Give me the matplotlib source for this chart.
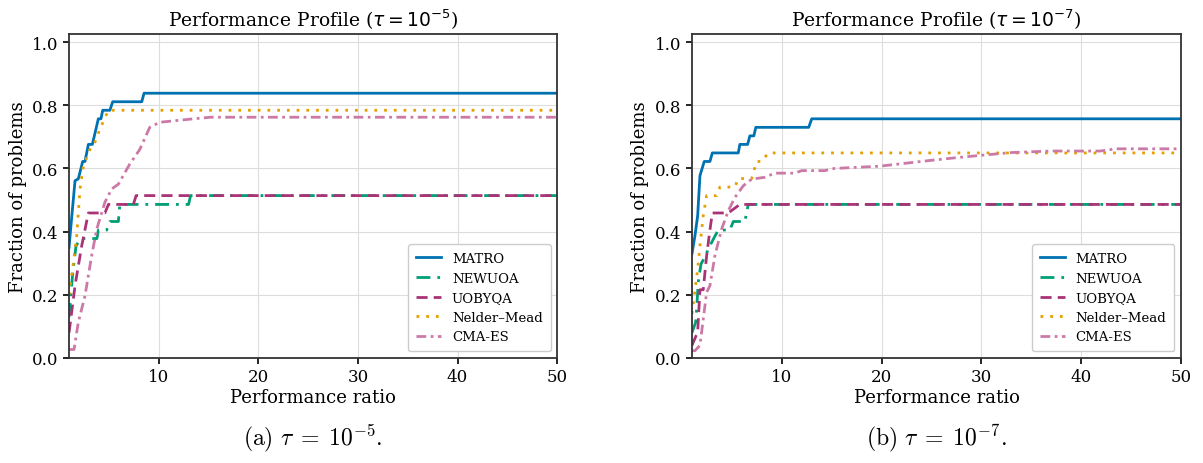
import numpy as np
import matplotlib.pyplot as plt

# Valeurs (ratio de performance, fraction de problemes)
matro_a_r = [1.0, 1.1, 1.6, 1.93, 2.37, 2.6, 2.94, 3.34, 3.94, 4.2, 4.38, 5.1, 5.38, 8.3, 8.53, 50]
matro_a_v = [0.35, 0.387, 0.561, 0.567, 0.622, 0.622, 0.676, 0.676, 0.757, 0.757, 0.784, 0.784, 0.811, 0.811, 0.838, 0.838]
newuoa_a_r = [1.0, 1.37, 1.7, 2.17, 3.8, 3.94, 4.78, 5.1, 5.95, 6.1, 13.0, 13.2, 50]
newuoa_a_v = [0.13, 0.27, 0.355, 0.378, 0.378, 0.405, 0.405, 0.432, 0.432, 0.486, 0.486, 0.514, 0.514]
uobyqa_a_r = [1.0, 1.6, 2.27, 2.94, 4.6, 4.95, 7.46, 7.73, 50]
uobyqa_a_v = [0.08, 0.229, 0.355, 0.459, 0.459, 0.486, 0.486, 0.514, 0.514]
nm_a_r = [1.0, 1.43, 1.77, 2.1, 2.44, 3.1, 3.6, 4.1, 4.95, 50]
nm_a_v = [0.2, 0.3, 0.387, 0.535, 0.608, 0.66, 0.683, 0.725, 0.784, 0.784]
cma_a_r = [1.0, 1.5, 1.93, 2.6, 3.27, 3.78, 4.6, 5.28, 5.95, 7.1, 8.1, 9.1, 10.1, 13.5, 15.2, 50]
cma_a_v = [0.027, 0.027, 0.113, 0.197, 0.324, 0.408, 0.493, 0.535, 0.55, 0.614, 0.66, 0.73, 0.746, 0.757, 0.762, 0.762]

matro_b_r = [1.0, 1.3, 1.57, 1.8, 2.23, 2.8, 3.04, 5.64, 5.8, 6.58, 6.8, 7.2, 7.4, 12.7, 13.0, 50]
matro_b_v = [0.33, 0.387, 0.45, 0.577, 0.622, 0.622, 0.649, 0.649, 0.676, 0.676, 0.703, 0.703, 0.73, 0.73, 0.757, 0.757]
newuoa_b_r = [1.0, 1.37, 1.47, 1.63, 1.9, 2.37, 2.63, 3.24, 3.64, 4.8, 5.14, 6.3, 6.64, 50]
newuoa_b_v = [0.08, 0.113, 0.155, 0.24, 0.297, 0.324, 0.345, 0.382, 0.405, 0.405, 0.432, 0.432, 0.486, 0.486]
uobyqa_b_r = [1.0, 1.57, 1.8, 2.13, 2.47, 2.8, 3.04, 4.64, 5.8, 50]
uobyqa_b_v = [0.04, 0.082, 0.216, 0.216, 0.324, 0.405, 0.459, 0.459, 0.486, 0.486]
nm_b_r = [1.0, 1.57, 1.8, 2.13, 2.47, 3.47, 3.8, 5.3, 5.64, 6.98, 7.48, 8.0, 8.65, 50]
nm_b_v = [0.14, 0.28, 0.355, 0.45, 0.514, 0.514, 0.541, 0.541, 0.568, 0.568, 0.622, 0.622, 0.649, 0.649]
cma_b_r = [1.0, 1.3, 1.8, 2.13, 2.47, 2.8, 3.3, 3.97, 4.64, 5.3, 6.14, 6.98, 8.3, 9.3, 11.3, 12.0, 14.3, 15.3, 19.8, 24.8, 27.8, 32.9, 36.9, 41.9, 43.5, 50]
cma_b_v = [0.023, 0.023, 0.04, 0.123, 0.208, 0.229, 0.324, 0.408, 0.466, 0.508, 0.545, 0.566, 0.572, 0.585, 0.585, 0.593, 0.593, 0.6, 0.607, 0.625, 0.635, 0.65, 0.655, 0.655, 0.662, 0.662]

noms = ['MATRO', 'NEWUOA', 'UOBYQA', 'Nelder\u2013Mead', 'CMA-ES']
couleurs = ['#0072B2', '#009E73', '#AA3377', '#E69F00', '#CC79A7']
styles = ['-', (0, (5, 2.5, 1, 2.5)), (0, (4, 2.2)), (0, (1, 2.5)), (0, (3.5, 1.6, 1, 1.6))]

panneaux = [
    ([matro_a_r, newuoa_a_r, uobyqa_a_r, nm_a_r, cma_a_r],
     [matro_a_v, newuoa_a_v, uobyqa_a_v, nm_a_v, cma_a_v],
     r'Performance Profile ($\tau = 10^{-5}$)', r'$\mathrm{(a)}\ \tau\;=\;10^{-5}.$'),
    ([matro_b_r, newuoa_b_r, uobyqa_b_r, nm_b_r, cma_b_r],
     [matro_b_v, newuoa_b_v, uobyqa_b_v, nm_b_v, cma_b_v],
     r'Performance Profile ($\tau = 10^{-7}$)', r'$\mathrm{(b)}\ \tau\;=\;10^{-7}.$'),
]

plt.rcParams['font.family'] = 'DejaVu Serif'
fig = plt.figure(figsize=(12.03, 4.64), dpi=100)
positions = [[0.0574, 0.2263, 0.4057, 0.698], [0.5752, 0.2263, 0.4065, 0.698]]

for pos, (ratios, valeurs, titre, legende_fig) in zip(positions, panneaux):
    ax = fig.add_axes(pos)
    for r, v, nom, c, ls in zip(ratios, valeurs, noms, couleurs, styles):
        ax.plot(r, v, color=c, linestyle=ls, linewidth=2, label=nom)
    ax.set_xlim(1, 50)
    ax.set_ylim(0, 1.025)
    ax.set_xticks([10, 20, 30, 40, 50])
    ax.set_yticks([0.0, 0.2, 0.4, 0.6, 0.8, 1.0])
    ax.tick_params(labelsize=12, length=4, width=1.2)
    ax.grid(True, color='#dddddd', linewidth=0.8)
    for s in ax.spines.values():
        s.set_linewidth(1.3)
        s.set_color('#333333')
    ax.set_xlabel('Performance ratio', fontsize=13, labelpad=2)
    ax.set_ylabel('Fraction of problems', fontsize=13)
    ax.set_title(titre, fontsize=13.5)
    ax.legend(loc='lower right', fontsize=9.5, framealpha=1, edgecolor='#cccccc',
              handlelength=1.9, borderpad=0.6)
    fig.text(pos[0] + pos[2] / 2, 0.022, legende_fig, ha='center', va='bottom',
             fontsize=17, math_fontfamily='cm')

plt.savefig('out.png', dpi=100)
